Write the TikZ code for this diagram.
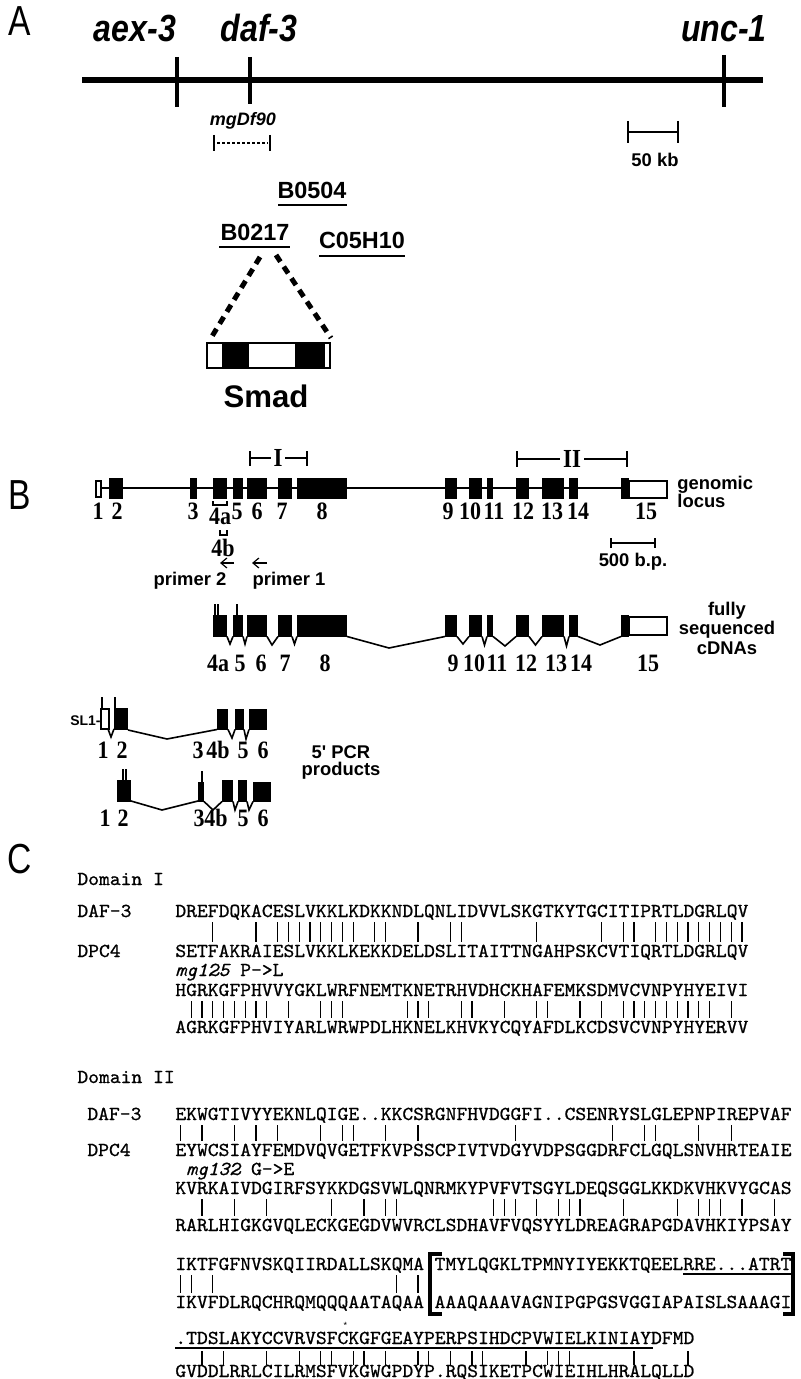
\documentclass[tikz,border=0pt]{standalone}
\usepackage{fontspec}
\usetikzlibrary{arrows.meta}
\setmainfont{Liberation Serif}
\newfontfamily\hv{Liberation Sans}
\newfontfamily\hvc[FakeStretch=0.85]{Liberation Sans}
\newfontfamily\hvp[FakeStretch=0.8]{Liberation Sans}
\newfontfamily\tmc[FakeStretch=0.88]{Liberation Serif}
\newfontfamily\seqf[FakeStretch=1.04,FakeBold=0.8,ItalicFont=lmmono10-italic.otf]{lmmono10-regular.otf}
\newcommand\cw{10.8}
\begin{document}
\begin{tikzpicture}[x=0.5pt,y=-0.5pt,
  panel/.style={font=\hvp\fontsize{21}{21}\selectfont,inner sep=0,anchor=base},
  gene/.style={font=\hvc\bfseries\itshape\fontsize{18.9}{19}\selectfont,inner sep=0,anchor=base},
  cos/.style={font=\hv\bfseries\fontsize{11.7}{12}\selectfont,inner sep=0,anchor=base},
  sl/.style={font=\hv\bfseries\fontsize{9.2}{10}\selectfont,inner sep=0,anchor=base},
  num/.style={font=\tmc\bfseries\fontsize{12.5}{12}\selectfont,inner sep=0,anchor=base},
  rom/.style={font=\tmc\bfseries\fontsize{13}{13}\selectfont,inner sep=1.5pt,fill=white},
  sq/.style={font=\seqf\fontsize{9.9}{11}\selectfont,inner sep=0,anchor=base west},
  bar/.style={line width=0.55pt},
  intr/.style={line width=0.8pt},
  wex/.style={fill=white,draw=black,line width=0.6pt},
  thinl/.style={line width=0.6pt},
]
\fill[white] (0,0) rectangle (800,1379);
\useasboundingbox (0,0) rectangle (800,1379);

% ================= Panel A =================
\node[panel] (pA) at (20,36) {A};
\node[gene] (aex) at (135,42) {aex-3};
\node[gene] (daf) at (259,42) {daf-3};
\node[gene] (unc) at (724,42) {unc-1};
\draw[line width=3pt] (82,80) -- (763,80);
\draw[line width=2.3pt] (177,57) -- (177,107);
\draw[line width=2.3pt] (250,57) -- (250,104);
\draw[line width=2.3pt] (724,55) -- (724,107);
\node[font=\hv\bfseries\itshape\fontsize{9}{10}\selectfont,inner sep=0,anchor=base] (mgdf) at (243,126) {mgDf90};
\draw[line width=1.2pt,dash pattern=on 1.5pt off 1pt] (217,143) -- (268,143);
\draw[line width=1pt] (214,135) -- (214,151);
\draw[line width=1pt] (270,135) -- (270,151);
\draw[line width=1.2pt] (628,132) -- (678,132);
\draw[line width=1.2pt] (628,121) -- (628,143);
\draw[line width=1.2pt] (678,121) -- (678,143);
\node[sl] (kb) at (655,167) {50 kb};

\node[cos] (b0504) at (312,199) {B0504};
\draw[line width=1.2pt] (278,205) -- (347,205);
\node[cos] (b0217) at (255,241) {B0217};
\draw[line width=1.2pt] (219,247) -- (290,247);
\node[cos] (c05) at (362,249) {C05H10};
\draw[line width=1.2pt] (319,256) -- (405,256);

\draw[line width=2.5pt,dash pattern=on 4pt off 3pt] (260,257) -- (211,338);
\draw[line width=2.5pt,dash pattern=on 4pt off 3pt] (276,255) -- (331,338);
\fill[white] (207,343) rectangle (330,368);
\fill (222,343) rectangle (249,368);
\fill (295,343) rectangle (325,368);
\draw[line width=0.7pt] (207,343) rectangle (330,368);
\node[font=\hv\bfseries\fontsize{15.6}{16}\selectfont,inner sep=0,anchor=base] (smad) at (266,408) {Smad};

% ================= Panel B =================
\node[panel] (pB) at (20,509) {B};
% domain brackets
\draw[line width=1.4pt] (250,458) -- (307,458);
\draw[line width=1.4pt] (250,451) -- (250,466);
\draw[line width=1.4pt] (307,451) -- (307,466);
\node[rom] (dI) at (278,458) {I};
\draw[line width=1.4pt] (517,459) -- (627,459);
\draw[line width=1.4pt] (517,451) -- (517,467);
\draw[line width=1.4pt] (627,451) -- (627,467);
\node[rom] (dII) at (572,459) {II};

% genomic locus
\draw[intr] (101,488) -- (621,488);
\foreach \a/\b in {109/123,190/197,213/227,233/243,247/267,278/292,297/347,445/457,469/482,487/493,516/529,542/564,569/578,621/629}
  \fill (\a,478) rectangle (\b,499);
\draw[wex] (96,481) rectangle (101,497);
\draw[wex] (629,481) rectangle (667,498);
\foreach \x/\t [count=\k] in {98/1,117/2,193/3,237/5,257/6,282/7,322/8,448/9,470/10,494/11,523/12,552/13,578/14,646/15}
  \node[num] (g\k) at (\x,519) {\t};
\node[num] (g4a) at (220,524) {4a};
\draw[thinl] (213,501) -- (213,505) -- (227,505) -- (227,501);
\draw[thinl] (220,530) -- (220,535) -- (227,535) -- (227,530);
\node[num] (g4b) at (223,556) {4b};
\coordinate (p2s) at (234,563); \coordinate (p2e) at (220,563);
\coordinate (p1s) at (267,563); \coordinate (p1e) at (252,563);
\draw[thinl,-{Straight Barb[length=3pt,width=5pt]}] (p2s) -- (p2e);
\draw[thinl,-{Straight Barb[length=3pt,width=5pt]}] (p1s) -- (p1e);
\node[sl] (pr2) at (190,585) {primer 2};
\node[sl] (pr1) at (289,585) {primer 1};
\node[sl,anchor=base west] (gen1) at (677,489) {genomic};
\node[sl,anchor=base west] (gen2) at (677,507) {locus};
\draw[line width=1pt] (611,543) -- (655,543);
\draw[line width=1pt] (611,538) -- (611,548);
\draw[line width=1pt] (655,538) -- (655,548);
\node[sl] (bp) at (633,566) {500 b.p.};

% cDNA
\foreach \a/\b in {213/227,233/243,247/267,278/292,297/347,445/457,469/482,487/493,516/529,542/564,569/578,621/629}
  \fill (\a,615) rectangle (\b,637);
\draw[wex] (629,617) rectangle (667,635);
\foreach \a/\m/\d/\b in {227/230/644/233,243/245/644/247,267/272/645/278,292/294.5/644/297,347/389/648/445,457/463/644/469,482/484.5/645/487,493/505/646/516,529/535.5/645/542,564/566.5/646/569,578/600/645/621}
  \draw[intr] (\a,636.5) -- (\m,\d) -- (\b,636.5);
\draw[thinl] (215,604) -- (215,615) (218,604) -- (218,615) (237,604) -- (237,615);
\foreach \x/\t [count=\k] in {218/4a,240/5,261/6,285/7,325/8,453/9,474/10,497/11,526/12,556/13,581/14,648/15}
  \node[num] (c\k) at (\x,671) {\t};
\node[sl] (fs1) at (727,615) {fully};
\node[sl] (fs2) at (727,634) {sequenced};
\node[sl] (fs3) at (727,654) {cDNAs};

% 5' PCR products, row 1
\node[font=\hv\bfseries\fontsize{7}{8}\selectfont,inner sep=0,anchor=base east] (sl1) at (101,725) {SL1-};
\draw[wex] (101,709) rectangle (109,729);
\fill (114,708) rectangle (128,730);
\draw[thinl] (102,697) -- (102,709) (115,697) -- (115,708);
\draw[intr] (108,729) -- (111,737) -- (114,729);
\draw[intr] (128,730) -- (167,739) -- (217,729.5);
\foreach \a/\b in {217/228,235/244,249/267} \fill (\a,709) rectangle (\b,730);
\draw[intr] (228,729.5) -- (232,738) -- (235,729.5);
\draw[intr] (244,729.5) -- (246,739) -- (249,729.5);
\foreach \x/\t [count=\k] in {103/1,122/2,198/3,218/4b,243/5,263/6}
  \node[num] (r\k) at (\x,758) {\t};
% row 2
\fill (117,780) rectangle (131,802);
\draw[thinl] (123,769) -- (123,780) (126,769) -- (126,780);
\draw[intr] (131,801) -- (162,810) -- (198,801);
\fill (198,782) rectangle (204,802);
\draw[thinl] (202,771) -- (202,782);
\draw[intr] (204,801.5) -- (213,810) -- (222,801.5);
\fill (222,780) rectangle (233,802);
\draw[intr] (233,801.5) -- (235,810) -- (238,801.5);
\fill (238,780) rectangle (247,802);
\draw[intr] (247,801.5) -- (249,810) -- (253,801.5);
\fill (253,782) rectangle (271,802);
\foreach \x/\t [count=\k] in {105/1,123/2,199/3,216/4b,243/5,263/6}
  \node[num] (s\k) at (\x,826) {\t};
\node[sl] (pcr1) at (341,758) {5' PCR};
\node[sl] (pcr2) at (341,775) {products};

% ================= Panel C =================
\node[panel] (pC) at (20,873) {C};
\node[sq] (h1) at (77,885) {Domain I};
\node[sq] (l1a) at (77,917) {DAF-3};
\node[sq] (l1b) at (77,957) {DPC4};
\node[sq] (s1a) at (175,917) {DREFDQKACESLVKKLKDKKNDLQNLIDVVLSKGTKYTGCITIPRTLDGRLQV};
\node[sq] (s1b) at (175,957) {SETFAKRAIESLVKKLKEKKDELDSLITAITTNGAHPSKCVTIQRTLDGRLQV};
\foreach \i in {4,8,10,11,12,13,14,15,16,17,19,20,23,26,27,34,40,42,43,45,46,47,48,49,50,51,52,53}
  \draw[bar] ({175+(\i-0.5)*\cw},922) -- ({175+(\i-0.5)*\cw},942);
\node[sq] (m1) at (175,976) {{\itshape mg125} P->L};
\node[sq] (s2a) at (175,996) {HGRKGFPHVVYGKLWRFNEMTKNETRHVDHCKHAFEMKSDMVCVNPYHYEIVI};
\node[sq] (s2b) at (175,1033) {AGRKGFPHVIYARLWRWPDLHKNELKHVKYCQYAFDLKCDSVCVNPYHYERVV};
\foreach \i in {2,3,4,5,6,7,8,9,11,14,15,16,22,23,24,27,28,31,34,35,38,40,42,43,44,45,46,47,48,49,50,52}
  \draw[bar] ({175+(\i-0.5)*\cw},1001) -- ({175+(\i-0.5)*\cw},1018);

\node[sq] (h2) at (77,1083) {Domain II};
\node[sq] (l2a) at (87,1120) {DAF-3};
\node[sq] (l2b) at (87,1156) {DPC4};
\node[sq] (t1a) at (175,1120) {EKWGTIVYYEKNLQIGE..KKCSRGNFHVDGGFI..CSENRYSLGLEPNPIREPVAF};
\node[sq] (t1b) at (175,1156) {EYWCSIAYFEMDVQVGETFKVPSSCPIVTVDGYVDPSGGDRFCLGQLSNVHRTEAIE};
\foreach \i in {1,3,6,8,10,14,16,17,20,23,32,41,44,45,49,52}
  \draw[bar] ({175+(\i-0.5)*\cw},1125) -- ({175+(\i-0.5)*\cw},1141);
\node[sq] (m2) at (185.8,1175) {{\itshape mg132} G->E};
\node[sq] (t2a) at (175,1194) {KVRKAIVDGIRFSYKKDGSVWLQNRMKYPVFVTSGYLDEQSGGLKKDKVHKVYGCAS};
\node[sq] (t2b) at (175,1231) {RARLHIGKGVQLECKGEGDVWVRCLSDHAVFVQSYYLDREAGRAPGDAVHKIYPSAY};
\foreach \i in {3,6,9,15,18,20,21,30,31,32,34,36,37,38,42,47,49,50,51,53,56}
  \draw[bar] ({175+(\i-0.5)*\cw},1199) -- ({175+(\i-0.5)*\cw},1216);
\node[sq] (t3a) at (175,1270) {IKTFGFNVSKQIIRDALLSKQMA};
\node[sq] (t3c) at ({175+24*\cw},1270) {TMYLQGKLTPMNYIYEKKTQEELRRE...ATRT};
\node[sq] (t3b) at (175,1308) {IKVFDLRQCHRQMQQQAATAQAA};
\node[sq] (t3d) at ({175+24*\cw},1308) {AAAQAAAVAGNIPGPGSVGGIAPAISLSAAAGI};
\foreach \i in {1,2,4,21,23}
  \draw[bar] ({175+(\i-0.5)*\cw},1275) -- ({175+(\i-0.5)*\cw},1293);
\draw[line width=1.8pt] (442,1254) -- (430,1254) -- (430,1314) -- (442,1314);
\draw[line width=1.8pt] (783,1254) -- (793,1254) -- (793,1314) -- (783,1314);
\draw[line width=1.1pt] (683,1274) -- (792,1274);
\node[sq] (t4a) at (175,1344) {.TDSLAKYCCVRVSFCKGFGEAYPERPSIHDCPVWIELKINIAYDFMD};
\node[sq] (t4b) at (175,1377) {GVDDLRRLCILRMSFVKGWGPDYP.RQSIKETPCWIEIHLHRALQLLD};
\node[font=\hv\fontsize{4.5}{5}\selectfont,inner sep=0] (star) at ({175+15.5*\cw+3},1325) {*};
\draw[line width=1.1pt] (175,1348) -- (653,1348);
\foreach \i in {3,5,9,12,14,15,17,18,20,23,24,26,28,29,33,35,36,37,43,48}
  \draw[bar] ({175+(\i-0.5)*\cw},1351) -- ({175+(\i-0.5)*\cw},1365);
\end{tikzpicture}
\end{document}
